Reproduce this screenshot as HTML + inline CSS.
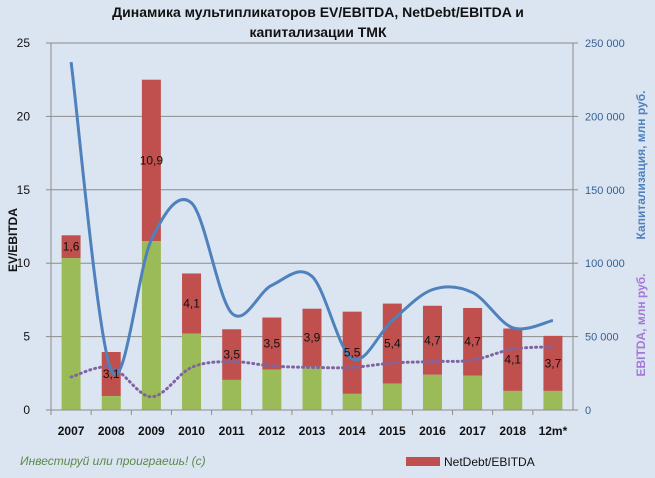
<!DOCTYPE html>
<html><head><meta charset="utf-8"><style>
body{margin:0;background:#dbe5f1;}
svg{display:block;font-family:"Liberation Sans","DejaVu Sans",sans-serif;}
</style></head><body>
<svg id="c" width="655" height="478" viewBox="0 0 655 478">
<rect x="0" y="0" width="655" height="478" fill="#dbe5f1"/>
<text x="318" y="17" text-anchor="middle" font-size="14" font-weight="bold" fill="#111">Динамика мультипликаторов  EV/EBITDA,  NetDebt/EBITDA и</text>
<text x="318" y="37" text-anchor="middle" font-size="14" font-weight="bold" fill="#111">капитализации ТМК</text>
<g id="grid"></g>
<g id="bars"></g>
<g id="lines"></g>
<g id="axes"></g>
<text transform="translate(17,240) rotate(-90)" text-anchor="middle" font-size="12" font-weight="bold" fill="#111">EV/EBITDA</text>
<text transform="translate(645,165) rotate(-90)" text-anchor="middle" font-size="12" font-weight="bold" fill="#4f81bd">Капитализация, млн руб.</text>
<text transform="translate(645,325) rotate(-90)" text-anchor="middle" font-size="12" font-weight="bold" fill="#a678d6">EBITDA, млн руб.</text>
<text x="20" y="465" font-size="12" font-style="italic" fill="#5a8a4a">Инвестируй или проиграешь! (с)</text>
<rect x="406" y="457" width="34" height="9" fill="#c0504d"/>
<text x="444" y="466" font-size="12" fill="#111">NetDebt/EBITDA</text>
</svg>
<script>
const categories=["2007","2008","2009","2010","2011","2012","2013","2014","2015","2016","2017","2018","12m*"];
const greenValues=[10.35,0.95,11.5,5.2,2.05,2.75,2.95,1.1,1.8,2.4,2.35,1.3,1.3];
const totalValues=[11.9,3.95,22.5,9.3,5.5,6.3,6.9,6.7,7.25,7.1,6.95,5.55,5.05];
const netDebtLabels=["1,6","3,1","10,9","4,1","3,5","3,5","3,9","5,5","5,4","4,7","4,7","4,1","3,7"];
const capValues=[237000,27000,116000,141000,66000,85000,91000,35000,61000,82000,80000,56000,61000];
const ebitdaValues=[22500,29000,9000,29000,33000,30000,29000,29000,32000,33000,34000,41500,43000];
const leftTicks=[0,5,10,15,20,25];
const rightTicks=["0","50 000","100 000","150 000","200 000","250 000"];
const rightTickValues=[0,50000,100000,150000,200000,250000];

const NS="http://www.w3.org/2000/svg";
const X0=51,X1=573,Y0=410,Y1=43;
const bw=(X1-X0)/categories.length;
const xc=i=>X0+bw*(i+0.5);
const yL=v=>Y0-(Y0-Y1)*v/25;
const yR=v=>Y0-(Y0-Y1)*v/250000;
function mk(tag,attrs,parent,txt){const e=document.createElementNS(NS,tag);for(const k in attrs)e.setAttribute(k,attrs[k]);if(txt!==undefined)e.textContent=txt;document.getElementById(parent).appendChild(e);return e;}

leftTicks.forEach((t,i)=>{
  if(t>0){const g=mk('line',{x1:X0,x2:X1,y1:yL(t),y2:yL(t),stroke:'#8c8c8c','stroke-width':1},'grid');
  
  }
  const a=mk('text',{x:30,y:yL(t)+4,'text-anchor':'end','font-size':12,fill:'#111'},'axes',String(t));
  
  
  const tk=mk('line',{x1:X0-5,x2:X0,y1:yL(t),y2:yL(t),stroke:'#8c8c8c'},'axes');
  
  
});
rightTickValues.forEach((v,i)=>{
  const a=mk('text',{x:585,y:yR(v)+4,'font-size':11,fill:'#376092'},'axes',rightTicks[i]);
  
  
  const tk=mk('line',{x1:X1,x2:X1+5,y1:yR(v),y2:yR(v),stroke:'#8c8c8c'},'axes');
  
  
});
let ax=mk('line',{x1:X0,x2:X0,y1:Y1,y2:Y0,stroke:'#8c8c8c'},'axes');


ax=mk('line',{x1:X1,x2:X1,y1:Y1,y2:Y0,stroke:'#8c8c8c'},'axes');


ax=mk('line',{x1:X0-5,x2:X1+5,y1:Y0,y2:Y0,stroke:'#8c8c8c'},'axes');



categories.forEach((c,i)=>{
  const tk=mk('line',{x1:X0+bw*i,x2:X0+bw*i,y1:Y0,y2:Y0+5,stroke:'#8c8c8c'},'axes');
  
  
  const l=mk('text',{x:xc(i),y:435,'text-anchor':'middle','font-size':12,'font-weight':'bold',fill:'#111'},'axes',c);
  
  
  const w=19;
  const r=mk('rect',{x:xc(i)-w/2,y:yL(totalValues[i]),width:w,height:yL(greenValues[i])-yL(totalValues[i]),fill:'#c0504d'},'bars');
  
  
  const g=mk('rect',{x:xc(i)-w/2,y:yL(greenValues[i]),width:w,height:Y0-yL(greenValues[i]),fill:'#9bbb59'},'bars');
  
  
});

function smooth(vals,yf){
  const p=vals.map((v,i)=>[xc(i),yf(v)]);
  let d='M'+p[0][0]+','+p[0][1];
  for(let i=0;i<p.length-1;i++){
    const p0=p[i-1]||p[i],p1=p[i],p2=p[i+1],p3=p[i+2]||p2;
    const c1=[p1[0]+(p2[0]-p0[0])/6,p1[1]+(p2[1]-p0[1])/6];
    const c2=[p2[0]-(p3[0]-p1[0])/6,p2[1]-(p3[1]-p1[1])/6];
    d+=' C'+c1+' '+c2+' '+p2;
  }
  return d;
}
const eb=mk('path',{d:smooth(ebitdaValues,yR),fill:'none',stroke:'#8064a2','stroke-width':3,'stroke-dasharray':'1 4','stroke-linecap':'round'},'lines');


const cp=mk('path',{d:smooth(capValues,yR),fill:'none',stroke:'#4f81bd','stroke-width':3},'lines');



categories.forEach((c,i)=>{
  const y=(yL(totalValues[i])+yL(greenValues[i]))/2+4;
  const t=mk('text',{x:xc(i),y:y,'text-anchor':'middle','font-size':12,fill:'#111'},'lines',netDebtLabels[i]);
  
  
});
</script>
</body></html>
